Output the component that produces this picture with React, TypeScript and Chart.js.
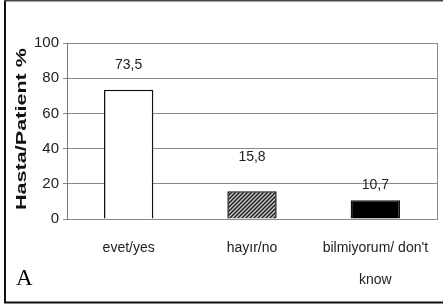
import React, { useEffect, useRef } from "react";
import { Chart, registerables } from "chart.js";

Chart.register(...registerables);

const categories: string[][] = [["evet/yes"], ["hayır/no"], ["bilmiyorum/ don't", "know"]];
const values: number[] = [73.5, 15.8, 10.7];
const valueLabels: string[] = ["73,5", "15,8", "10,7"];
const yMin = 0;
const yMax = 100;
const yStep = 20;
const yTitle = "Hasta/Patient %";
const panelLetter = "A";
const labelOffsets: number[] = [24, 34, 15];

const SANS = '"Liberation Sans", Arial, sans-serif';

function makeHatch(): CanvasPattern | string {
  const c = document.createElement("canvas");
  c.width = 4;
  c.height = 4;
  const g = c.getContext("2d");
  if (!g) return "#555";
  g.fillStyle = "#c8c8c8";
  g.fillRect(0, 0, 4, 4);
  g.strokeStyle = "#1a1a1a";
  g.lineWidth = 1.4;
  g.beginPath();
  g.moveTo(-1, 5);
  g.lineTo(5, -1);
  g.moveTo(-1, 1);
  g.lineTo(1, -1);
  g.moveTo(3, 5);
  g.lineTo(5, 3);
  g.stroke();
  const p = g.createPattern(c, "repeat");
  return p || "#555";
}

const decoPlugin = {
  id: "deco",
  beforeDraw(chart: any) {
    const ctx = chart.ctx;
    ctx.save();
    ctx.fillStyle = "#ffffff";
    ctx.fillRect(0, 0, chart.width, chart.height);
    ctx.restore();
  },
  afterDraw(chart: any) {
    const { ctx, chartArea } = chart;
    ctx.save();
    // right border of plot
    ctx.strokeStyle = "#8a8a8a";
    ctx.lineWidth = 1;
    ctx.beginPath();
    const rx = Math.round(chartArea.right) + 0.5;
    ctx.moveTo(rx, chartArea.top);
    ctx.lineTo(rx, chartArea.bottom + 1);
    ctx.stroke();

    // value labels
    const meta = chart.getDatasetMeta(0);
    ctx.fillStyle = "#222";
    ctx.font = `14px ${SANS}`;
    ctx.textAlign = "center";
    ctx.textBaseline = "middle";
    meta.data.forEach((bar: any, i: number) => {
      ctx.fillText(valueLabels[i], bar.x, bar.y - labelOffsets[i]);
    });

    // y title (stretched)
    ctx.save();
    ctx.translate(22, (chartArea.top + chartArea.bottom) / 2 - 2);
    ctx.rotate(-Math.PI / 2);
    ctx.font = `bold 15px ${SANS}`;
    const w = ctx.measureText(yTitle).width;
    ctx.scale(162 / w, 1);
    ctx.fillStyle = "#111";
    ctx.textAlign = "center";
    ctx.textBaseline = "middle";
    ctx.fillText(yTitle, 0, 0);
    ctx.restore();

    // panel letter
    ctx.fillStyle = "#000";
    ctx.font = '23px "Liberation Serif", "Times New Roman", serif';
    ctx.textAlign = "left";
    ctx.textBaseline = "alphabetic";
    ctx.fillText(panelLetter, 16, 285);

    // frame
    ctx.fillStyle = "#111";
    ctx.fillRect(4, 0, 2, 303);
    ctx.fillStyle = "#444";
    ctx.fillRect(4, 0, 439, 1.5);
    ctx.fillStyle = "#111";
    ctx.fillRect(4, 301.5, 439, 2);
    ctx.restore();
  },
};

export default function App() {
  const ref = useRef<HTMLCanvasElement | null>(null);

  useEffect(() => {
    const canvas = ref.current;
    if (!canvas) return;
    const hatch = makeHatch();
    const chart = new Chart(canvas, {
      type: "bar",
      data: {
        labels: categories as any,
        datasets: [
          {
            data: values,
            backgroundColor: ["#ffffff", hatch as any, "#000000"],
            borderColor: "#111111",
            borderWidth: 1.5,
            barPercentage: 0.4,
            categoryPercentage: 1,
          },
        ],
      },
      options: {
        animation: false,
        responsive: false,
        devicePixelRatio: 1,
        layout: { padding: { top: 43, right: 6, left: 0, bottom: 0 } },
        plugins: {
          legend: { display: false },
          tooltip: { enabled: false },
          title: { display: false },
        },
        scales: {
          x: {
            grid: { display: false, drawTicks: false },
            border: { display: false },
            ticks: {
              color: "#222",
              font: { family: SANS, size: 14, lineHeight: 32 / 14 },
              padding: 13,
              maxRotation: 0,
              autoSkip: false,
            },
            afterFit: (scale: any) => {
              scale.height = 88;
            },
          },
          y: {
            min: yMin,
            max: yMax,
            grid: { color: "#8a8a8a", lineWidth: 1, tickLength: 4, drawTicks: true },
            border: { display: true, color: "#777777", width: 1 },
            ticks: {
              stepSize: yStep,
              color: "#222",
              font: { family: SANS, size: 15 },
              padding: 4,
            },
            afterFit: (scale: any) => {
              scale.width = 67;
            },
          },
        },
      },
      plugins: [decoPlugin],
    });
    return () => chart.destroy();
  }, []);

  return (
    <div style={{ position: "absolute", left: 0, top: 0, width: 443, height: 307, background: "#fff" }}>
      <canvas ref={ref} width={443} height={307} style={{ display: "block", width: 443, height: 307 }} />
    </div>
  );
}
